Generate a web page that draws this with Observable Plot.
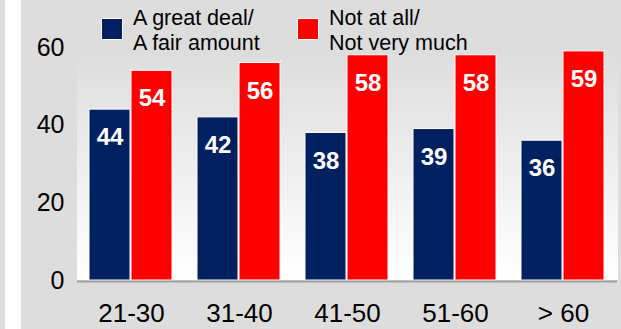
<!DOCTYPE html>
<html><head><meta charset="utf-8">
<script src="https://cdn.jsdelivr.net/npm/d3@7"></script>
<script src="https://cdn.jsdelivr.net/npm/@observablehq/plot@0.6"></script>
<style>
html,body{margin:0;padding:0;background:#dddddd;}
#wrap{position:relative;width:621px;height:329px;overflow:hidden;font-family:"Liberation Sans",Arial,sans-serif;}
#strip{position:absolute;left:5px;top:0;width:16px;height:329px;background:#ffffff;}
#panel{position:absolute;left:77px;top:47px;width:541px;height:233px;background:linear-gradient(#dcdcdc,#ffffff);}
#chart{position:absolute;left:0;top:0;}
.item{position:absolute;top:6px;font-size:21.5px;line-height:25px;color:#000;white-space:pre-line;}
.item .sw{position:absolute;left:0;top:12px;width:20px;height:20px;border:1px solid #fff;}
.item .lb{position:absolute;left:32px;top:0;white-space:pre;}
[aria-label^="fx-axis"] text{font-size:26px;}
</style>
</head><body>
<div id="wrap"><div id="strip"></div><div id="panel"></div><div id="chart"></div></div>
<script>
const ages = ["21-30", "31-40", "41-50", "51-60", "> 60"];
const greatDeal = [44, 42, 38, 39, 36];
const notAtAll = [54, 56, 58, 58, 59];
const seriesNames = ["A great deal/\nA fair amount", "Not at all/\nNot very much"];
const colors = ["#002060", "#ff0000"];
const yTicks = [0, 20, 40, 60];

const data = ages.flatMap((age, i) => [
  {age, series: seriesNames[0], value: greatDeal[i]},
  {age, series: seriesNames[1], value: notAtAll[i]}
]);

const chart = Plot.plot({
  width: 621, height: 329,
  marginLeft: 77, marginRight: 3, marginTop: 47, marginBottom: 49,
  style: {background: "transparent", fontFamily: "'Liberation Sans', Arial, sans-serif", fontSize: "25px", color: "#000", overflow: "visible"},
  facet: {data, x: "age"},
  fx: {domain: ages, paddingInner: 0.2, paddingOuter: 0.1, axis: "bottom", tickSize: 0, tickPadding: 23, label: null},
  x: {domain: seriesNames, axis: null, padding: 0.02},
  y: {domain: [0, 60], ticks: yTicks, tickSize: 0, tickPadding: 24, label: null},
  color: {domain: seriesNames, range: colors},
  marks: [
    Plot.barY(data, {x: "series", y: "value", fill: "series", stroke: "white", strokeWidth: 1}),
    Plot.ruleY([0], {stroke: "#a0a0a0", strokeWidth: 2, dy: 1, insetLeft: -11, insetRight: -11}),
    Plot.text(data, {x: "series", y: "value", text: d => String(d.value), fill: "white", fontSize: 24, fontWeight: "bold", dy: 28})
  ]
});
document.getElementById("chart").appendChild(chart);

const legendLeft = [101, 297];
const wrap = document.getElementById("wrap");
seriesNames.forEach((name, i) => {
  const it = document.createElement("div");
  it.className = "item";
  it.style.left = legendLeft[i] + "px";
  const sw = document.createElement("div");
  sw.className = "sw";
  sw.style.background = colors[i];
  const lb = document.createElement("div");
  lb.className = "lb";
  lb.textContent = name;
  it.appendChild(sw); it.appendChild(lb);
  wrap.appendChild(it);
});
</script>
</body></html>
